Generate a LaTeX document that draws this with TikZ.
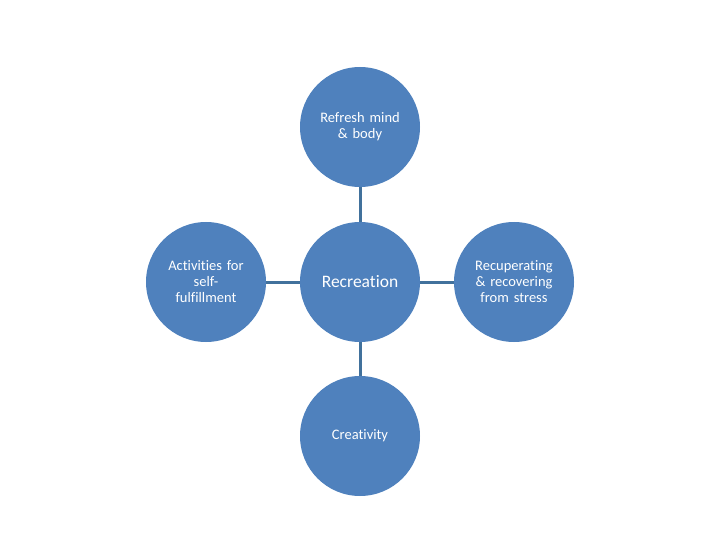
\documentclass[tikz,border=0pt]{standalone}
\usepackage{fontspec}
\setmainfont[Ligatures={NoCommon}]{Carlito}
\definecolor{nodefill}{HTML}{4F81BD}
\definecolor{linkcol}{HTML}{41719C}
\begin{document}
\begin{tikzpicture}[x=1pt,y=-1pt,
  bubble/.style={circle,fill=nodefill,draw=none,minimum size=120pt,inner sep=0pt,text=white,align=center,font=\fontsize{14.5}{16}\selectfont,text width=100pt},
  link/.style={draw=linkcol,line width=3pt}]
\useasboundingbox (0,0) rectangle (720,540);
\node[bubble,font=\fontsize{17.5}{20}\selectfont] (c) at (360,282) {Recreation};
\node[bubble] (t) at (360,127) {Refresh mind\\ \& body};
\node[bubble] (l) at (206,282) {Activities for\\ self-\\ fulfillment};
\node[bubble] (r) at (514,282) {Recuperating\\ \& recovering\\ from stress};
\node[bubble] (b) at (360,436) {Creativity};
\draw[link] (c) -- (t);
\draw[link] (c) -- (l);
\draw[link] (c) -- (r);
\draw[link] (c) -- (b);
\end{tikzpicture}
\end{document}
